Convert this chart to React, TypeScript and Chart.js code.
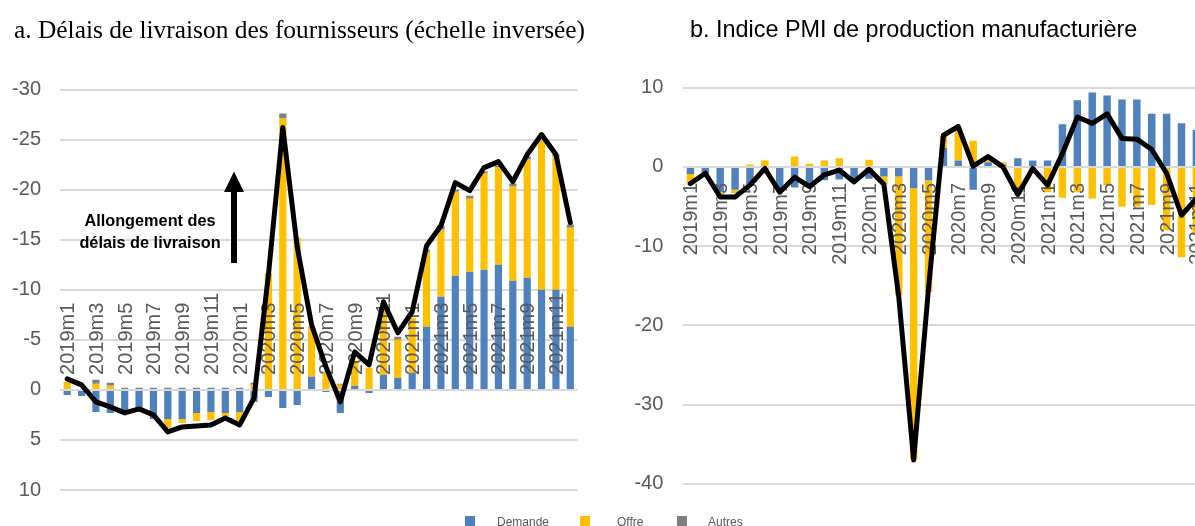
import React, { useEffect, useRef } from "react";
import { Chart, registerables } from "chart.js";

Chart.register(...registerables);

// ---------- data ----------
const months = [
  "2019m1", "2019m2", "2019m3", "2019m4", "2019m5", "2019m6", "2019m7", "2019m8", "2019m9", "2019m10", "2019m11", "2019m12",
  "2020m1", "2020m2", "2020m3", "2020m4", "2020m5", "2020m6", "2020m7", "2020m8", "2020m9", "2020m10", "2020m11", "2020m12",
  "2021m1", "2021m2", "2021m3", "2021m4", "2021m5", "2021m6", "2021m7", "2021m8", "2021m9", "2021m10", "2021m11", "2021m12",
];

const leftDemande = [0.5, 0.6, 2.2, 2.3, 2.4, 1.9, 2.9, 2.9, 2.9, 2.3, 2.2, 2.3, 2.2, 1.2, 0.7, 1.8, 1.5, -1.3, 0.2, 2.3, -0.4, 0.3, -1.5, -1.2, -1.7, -6.3, -9.3, -11.4, -11.8, -12.0, -12.5, -10.9, -11.2, -10.0, -10.0, -6.3];
const leftOffre = [-0.8, 0, -0.6, -0.4, 0, 0.1, 0, 0.9, 0.4, 0.8, 0.8, 0.3, 0.9, -0.5, -11.5, -27.1, -15.2, -5.0, -1.7, -0.5, -2.5, -2.2, -6.5, -3.8, -5.5, -7.5, -6.7, -8.4, -7.3, -9.6, -9.7, -9.4, -11.8, -14.8, -13.3, -9.9];
const leftAutres = [0, 0, -0.4, -0.3, -0.2, -0.2, -0.2, -0.2, -0.2, -0.2, -0.2, -0.2, -0.2, -0.2, -0.1, -0.5, 0, 0, -0.1, -0.1, 0, 0, 0, -0.3, 0, -0.2, -0.4, -0.2, -0.3, -0.2, -0.2, -0.3, -0.3, -0.1, -0.2, -0.3];
const leftTotal = [-1.1, -0.5, 1.2, 1.7, 2.3, 1.9, 2.5, 4.2, 3.7, 3.6, 3.5, 2.8, 3.5, 0.8, -11.5, -26.2, -14.3, -6.5, -2.3, 1.2, -3.8, -2.5, -8.8, -5.7, -7.8, -14.4, -16.4, -20.7, -19.9, -22.2, -22.8, -20.8, -23.5, -25.5, -23.5, -16.7];

const rightDemande = [-0.9, -0.8, -3.2, -2.9, -2.3, -0.8, -2.9, -2.6, -2.3, -1.7, -1.6, -1.9, -1.5, -1.2, -1.2, -2.7, -1.7, 2.4, 0.8, -2.9, 0.6, 0.2, 1.1, 0.8, 0.8, 5.4, 8.4, 9.4, 9.0, 8.5, 8.5, 6.7, 6.7, 5.5, 4.7, 4.0];
const rightOffre = [-1.4, -0.2, -0.4, -0.4, 0.3, 0.8, 0, 1.3, 0.4, 0.8, 1.1, 0, 0.9, -1.0, -15.0, -34.2, -14.1, 1.5, 4.2, 3.3, 0.3, 0.4, -3.5, -0.3, -3.2, -3.9, -3.2, -4.0, -2.3, -5.0, -5.0, -4.8, -8.0, -11.4, -8.5, -7.0];
const rightAutres = [0, 0, 0, 0, 0, 0, 0, 0, 0, 0, 0, 0, 0, 0, 0, 0, 0, 0, 0, 0, 0, 0, 0, 0, 0, 0, 0, 0, 0, 0, 0, 0, 0, 0, 0, 0];
const rightTotal = [-2.1, -0.8, -3.8, -3.8, -2.3, -0.2, -3.2, -1.3, -2.5, -1.0, -0.4, -1.9, -0.3, -2.2, -16.4, -37.0, -15.3, 4.0, 5.1, 0.1, 1.3, 0.0, -3.5, -0.2, -2.3, 1.7, 6.3, 5.5, 6.7, 3.6, 3.5, 2.2, -0.8, -6.1, -4.0, -3.0];

const seriesNames = ["Demande", "Offre", "Autres"];
const leftTitle = "a. Délais de livraison des fournisseurs (échelle inversée)";
const rightTitle = "b. Indice PMI de production manufacturière";
const annotationLines = ["Allongement des", "délais de livraison"];

// ---------- styles ----------
const SANS = '"Liberation Sans", Arial, sans-serif';
const SERIF = '"Liberation Serif", "Times New Roman", serif';
const BLUE = "#4F81BD";
const YELLOW = "#FFC000";
const GRAY = "#808080";
const GRID = "#D9D9D9";
const TICK = "#595959";
const seriesColors = [BLUE, YELLOW, GRAY];

function drawMonthLabels(chart: any, offset: number, align: CanvasTextAlign) {
  const { ctx } = chart;
  const xs = chart.scales.x;
  const ys = chart.scales.y;
  const y0 = ys.getPixelForValue(0);
  ctx.save();
  ctx.font = `20px ${SANS}`;
  ctx.fillStyle = TICK;
  ctx.textAlign = align;
  ctx.textBaseline = "alphabetic";
  months.forEach((m, i) => {
    if (i % 2) return;
    const px = xs.getPixelForValue(i);
    ctx.save();
    ctx.translate(px, y0 + offset);
    ctx.rotate(-Math.PI / 2);
    ctx.fillText(m, 0, 7);
    ctx.restore();
  });
  ctx.restore();
}

function buildConfig(p: any) {
  return {
    type: "bar",
    data: {
      labels: months,
      datasets: [
        { label: seriesNames[0], data: p.demande, backgroundColor: BLUE, order: 1, stack: "bars" },
        { label: seriesNames[1], data: p.offre, backgroundColor: YELLOW, order: 1, stack: "bars" },
        { label: seriesNames[2], data: p.autres, backgroundColor: GRAY, order: 1, stack: "bars" },
        {
          type: "line",
          label: "Total",
          data: p.total,
          borderColor: "#000000",
          backgroundColor: "#000000",
          borderWidth: 5,
          pointRadius: 0,
          pointHoverRadius: 0,
          order: 0,
          stack: "line",
          tension: 0,
          fill: false,
          borderJoinStyle: "round",
          borderCapStyle: "round",
        },
      ],
    },
    options: {
      responsive: false,
      maintainAspectRatio: false,
      animation: false,
      devicePixelRatio: 1,
      events: [],
      layout: { padding: p.padding },
      datasets: { bar: { barPercentage: 0.5, categoryPercentage: 1, borderWidth: 0 } },
      plugins: { legend: { display: false }, tooltip: { enabled: false }, title: { display: false } },
      scales: {
        x: { type: "category", display: false, stacked: true, offset: true },
        y: {
          reverse: p.reverse,
          min: p.min,
          max: p.max,
          stacked: true,
          ticks: { stepSize: p.step, color: TICK, font: { family: SANS, size: 20 }, padding: p.tickPad },
          grid: { color: GRID, lineWidth: 2, drawTicks: false },
          border: { display: false },
          afterFit: (s: any) => {
            s.width = p.axisWidth;
          },
        },
      },
    },
    plugins: [
      {
        id: "decor",
        beforeDatasetDraw(chart: any, args: any) {
          if (args.index !== 3) return;
          drawMonthLabels(chart, p.labelOffset, p.labelAlign);
        },
        afterDraw(chart: any) {
          p.afterDraw(chart.ctx, chart);
        },
      },
    ],
  };
}

function drawLeftExtras(ctx: CanvasRenderingContext2D) {
  ctx.save();
  // title
  ctx.fillStyle = "#000000";
  ctx.font = `25.4px ${SERIF}`;
  ctx.textAlign = "left";
  ctx.textBaseline = "alphabetic";
  ctx.fillText(leftTitle, 14, 37.5);

  // annotation text
  ctx.font = `bold 16.3px ${SANS}`;
  ctx.textAlign = "center";
  ctx.fillText(annotationLines[0], 150, 226);
  ctx.fillText(annotationLines[1], 150, 248);

  // arrow
  ctx.fillRect(231, 190, 6, 73);
  ctx.beginPath();
  ctx.moveTo(224, 192);
  ctx.lineTo(244, 192);
  ctx.lineTo(234, 171.5);
  ctx.closePath();
  ctx.fill();

  // shared legend
  const sq = [465, 580, 677];
  const tx = [497, 617, 708];
  ctx.font = `12px ${SANS}`;
  ctx.textAlign = "left";
  seriesNames.forEach((n, i) => {
    ctx.fillStyle = seriesColors[i];
    ctx.fillRect(sq[i], 516, 10, 10);
    ctx.fillStyle = "#595959";
    ctx.fillText(n, tx[i], 525.5);
  });
  ctx.restore();
}

function drawRightExtras(ctx: CanvasRenderingContext2D) {
  ctx.save();
  ctx.fillStyle = "#000000";
  ctx.font = `23.4px ${SANS}`;
  ctx.textAlign = "left";
  ctx.textBaseline = "alphabetic";
  ctx.fillText(rightTitle, 90, 36.5);
  ctx.restore();
}

function ChartCanvas(props: { left: number; width: number; height: number; make: () => any }) {
  const ref = useRef<HTMLCanvasElement>(null);
  useEffect(() => {
    const chart = new Chart(ref.current as HTMLCanvasElement, props.make());
    return () => chart.destroy();
  }, []);
  return (
    <canvas
      ref={ref}
      width={props.width}
      height={props.height}
      style={{ position: "absolute", left: props.left, top: 0, width: props.width, height: props.height }}
    />
  );
}

export default function App() {
  const makeLeft = () =>
    buildConfig({
      demande: leftDemande,
      offre: leftOffre,
      autres: leftAutres,
      total: leftTotal,
      reverse: true,
      min: -30,
      max: 10,
      step: 5,
      tickPad: 19,
      axisWidth: 60,
      padding: { left: 0, top: 89.5, right: 760 - 577.5, bottom: 36 },
      labelOffset: -15,
      labelAlign: "left",
      afterDraw: (ctx: CanvasRenderingContext2D) => drawLeftExtras(ctx),
    });
  const makeRight = () =>
    buildConfig({
      demande: rightDemande,
      offre: rightOffre,
      autres: rightAutres,
      total: rightTotal,
      reverse: false,
      min: -40,
      max: 10,
      step: 10,
      tickPad: 19.7,
      axisWidth: 83,
      padding: { left: 0, top: 87.7, right: 21.3, bottom: 42.3 },
      labelOffset: 16,
      labelAlign: "right",
      afterDraw: (ctx: CanvasRenderingContext2D) => drawRightExtras(ctx),
    });
  return (
    <div
      style={{
        position: "fixed",
        left: 0,
        top: 0,
        width: 1195,
        height: 526,
        overflow: "hidden",
        background: "#ffffff",
      }}
    >
      <ChartCanvas left={0} width={760} height={526} make={makeLeft} />
      <ChartCanvas left={600} width={640} height={526} make={makeRight} />
    </div>
  );
}
